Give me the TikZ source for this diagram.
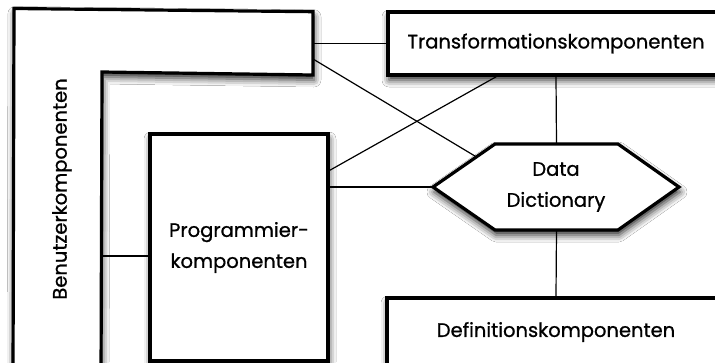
\documentclass[tikz,border=0pt]{standalone}
\usepackage{fontspec}
\setmainfont{Poppins}[FakeBold=0.9]
\usetikzlibrary{calc,shadows.blur}
\begin{document}
\begin{tikzpicture}[x=1pt,y=-1pt,
  comp/.style={draw=black,line width=3.2pt,fill=white,line join=miter,
    blur shadow={shadow xshift=1pt,shadow yshift=-5pt,shadow blur radius=7pt,shadow opacity=85}},
  label/.style={font=\fontsize{19.5}{31}\selectfont,align=center,inner sep=0pt},
  link/.style={line width=1.2pt,draw=black}]
\useasboundingbox (0,0) rectangle (715,362);
\fill[white] (0,0) rectangle (715,362);
\clip (0,0) rectangle (715,362);

% user components: L-shaped frame along the left and top
\draw[comp] (14,8.5) -- (313,11.7) -- (313,75) -- (102,72) -- (101,380) -- (13,380) -- cycle;
\node[label,rotate=90] (benutzer) at (62,189) {Benutzerkomponenten};
\coordinate (uA) at (313,43.5);
\coordinate (uB) at (313,59);
\coordinate (uC) at (101,256);

% programmer components
\node[comp,label,minimum width=178pt,minimum height=227pt] (prog) at (239,247.5)
  {Programmier-\\komponenten};

% transformation and definition components
\node[comp,label,minimum width=336pt,minimum height=63pt] (trans) at (556,43.5)
  {Transformationskomponenten};
\node[comp,label,minimum width=338pt,minimum height=68pt] (defs) at (556,332)
  {Definitionskomponenten};

% data dictionary hexagon
\coordinate (ddc) at (556,187);
\coordinate (hw)  at ($(ddc)+(-123,0)$);
\coordinate (hnw) at ($(ddc)+(-61,-43)$);
\coordinate (hne) at ($(ddc)+(62,-43)$);
\coordinate (he)  at ($(ddc)+(123,0)$);
\coordinate (hse) at ($(ddc)+(62,43)$);
\coordinate (hsw) at ($(ddc)+(-61,43)$);
\draw[comp] (hw) -- (hnw) -- (hne) -- (he) -- (hse) -- (hsw) -- cycle;
\node[label] (dd) at (ddc) {Data\\Dictionary};

% connections
\draw[link] (uA) -- (trans.west);
\draw[link] (uB) -- ($(hw)!0.7!(hnw)$);
\draw[link] ($(prog.north east)+(0,38)$) -- ($(trans.south west)+(110,0)$);
\draw[link] (prog.east |- hw) -- (hw);
\draw[link] (uC) -- (prog.west |- uC);
\draw[link] (trans.south) -- ($(hnw)!0.5!(hne)$);
\draw[link] ($(hsw)!0.5!(hse)$) -- (defs.north);
\end{tikzpicture}
\end{document}
